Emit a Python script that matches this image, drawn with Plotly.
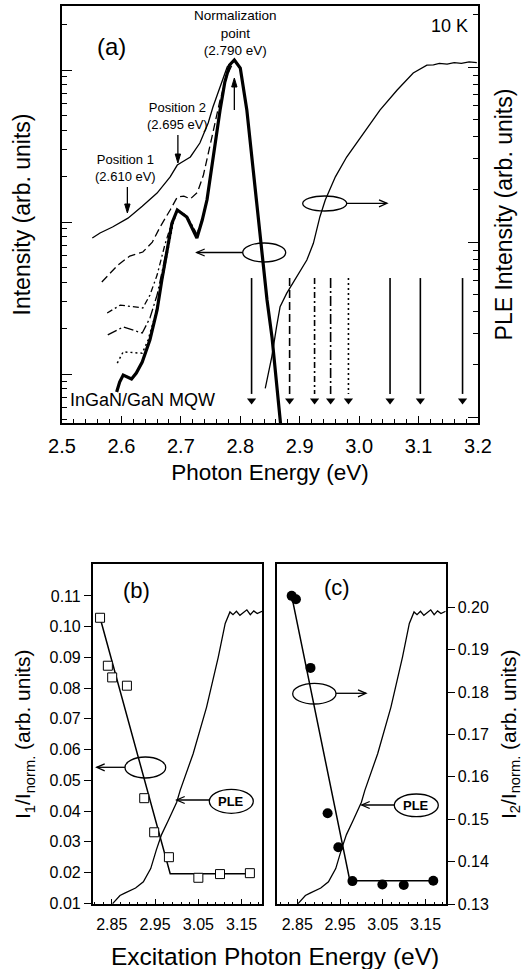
import plotly.graph_objects as go

W, H = 524, 969
FONT = "Liberation Sans, Arial, Helvetica, sans-serif"

# ================= Panel (a): PL spectra (left log axis) =================
# common normalization peak and high-energy side (all spectra coincide)
peak_E = [2.790, 2.800, 2.811, 2.8215, 2.833, 2.845, 2.8535, 2.862, 2.868]
peak_I = [1.164, 1.03, 0.546, 0.230, 0.0885, 0.0307, 0.0173, 0.00847, 0.00461]

# excitation 2.82 eV (thin solid)
pl1_E = [2.551, 2.564, 2.585, 2.611, 2.635, 2.660, 2.682, 2.694, 2.705, 2.716,
         2.732, 2.746, 2.754, 2.766, 2.778]
pl1_I = [0.0785, 0.0847, 0.0927, 0.106, 0.127, 0.155, 0.198, 0.237, 0.252, 0.268,
         0.331, 0.448, 0.571, 0.773, 1.047]
# excitation 2.88 eV (long dash)
pl2_E = [2.567, 2.594, 2.614, 2.636, 2.652, 2.665, 2.682, 2.694, 2.705, 2.716,
         2.728, 2.738, 2.753, 2.766, 2.778]
pl2_I = [0.0403, 0.0521, 0.0597, 0.0635, 0.0738, 0.0927, 0.120, 0.146, 0.148, 0.142,
         0.157, 0.204, 0.373, 0.635, 0.927]
# excitation 2.92 eV (dash-dot)
pl3_E = [2.576, 2.598, 2.636, 2.648, 2.660, 2.673, 2.685, 2.694, 2.710, 2.727,
         2.736, 2.744, 2.750, 2.757, 2.766, 2.774, 2.782]
pl3_I = [0.0252, 0.0284, 0.0272, 0.0331, 0.0448, 0.0706, 0.100, 0.120, 0.110, 0.0834,
         0.104, 0.142, 0.206, 0.323, 0.548, 0.836, 1.079]
# excitation 2.95 eV (long dash-dot)
pl4_E = [2.577, 2.603, 2.635, 2.648, 2.660, 2.673, 2.685, 2.694, 2.710, 2.727,
         2.736, 2.744, 2.750, 2.757, 2.766, 2.774, 2.782]
pl4_I = [0.0181, 0.0204, 0.0186, 0.0234, 0.0331, 0.0562, 0.0955, 0.120, 0.109, 0.0809,
         0.103, 0.141, 0.205, 0.322, 0.547, 0.835, 1.079]
# excitation 2.98 eV (dotted)
pl5_E = [2.593, 2.603, 2.635, 2.645, 2.657, 2.668, 2.678, 2.687, 2.694, 2.710,
         2.727, 2.736, 2.744, 2.750, 2.757, 2.766, 2.774, 2.782]
pl5_I = [0.0118, 0.0140, 0.0137, 0.0168, 0.0245, 0.0403, 0.0655, 0.0984, 0.120, 0.108,
         0.0796, 0.103, 0.140, 0.204, 0.321, 0.546, 0.834, 1.079]
# excitation 3.05 / 3.10 / 3.17 eV (solid, overlapping -> thick)
pl6_E = [2.592, 2.597, 2.603, 2.610, 2.617, 2.625, 2.635, 2.648, 2.660, 2.668,
         2.677, 2.685, 2.694, 2.710, 2.727, 2.736, 2.744, 2.750, 2.757, 2.766,
         2.774, 2.782]
pl6_I = [0.00762, 0.00885, 0.00985, 0.00955, 0.00927, 0.01016, 0.0120, 0.0168, 0.0264, 0.0415,
         0.0655, 0.0984, 0.120, 0.108, 0.0785, 0.103, 0.140, 0.204, 0.321, 0.546,
         0.834, 1.079]

# PLE spectrum (right log axis)
ple_E = [2.842, 2.853, 2.861, 2.867, 2.878, 2.895, 2.912, 2.923, 2.934, 2.943,
         2.960, 2.979, 3.007, 3.035, 3.064, 3.091, 3.114, 3.125, 3.135, 3.148,
         3.160, 3.172, 3.185, 3.198]
ple_I = [0.146, 0.221, 0.328, 0.427, 0.509, 0.634, 0.789, 0.984, 1.396, 1.738,
         2.360, 3.062, 4.198, 5.675, 7.396, 9.247, 10.25, 10.30, 10.50, 10.40,
         10.60, 10.50, 10.70, 10.60]

# excitation energies marked by vertical arrows
exc_E = [2.819, 2.883, 2.925, 2.952, 2.982, 3.052, 3.103, 3.174]
DASH = {"solid": "solid", "ldash": "8px,4px", "dashdot": "6px,3px,2px,3px",
        "ldashdot": "10px,3px,2px,3px", "dot": "2px,3px"}
exc_style = ["solid", "ldash", "dashdot", "ldashdot", "dot", "solid", "solid", "solid"]

# marked positions (eV)
norm_E, pos2_E, pos1_E = 2.790, 2.695, 2.610

a_xticks = [2.5, 2.6, 2.7, 2.8, 2.9, 3.0, 3.1, 3.2]
a_xticklabels = ["2.5", "2.6", "2.7", "2.8", "2.9", "3.0", "3.1", "3.2"]

# ================= Panels (b), (c) =================
b_E = [2.823, 2.841, 2.851, 2.885, 2.925, 2.948, 2.982, 3.050, 3.100, 3.169]
b_I1 = [0.1029, 0.0873, 0.0835, 0.0808, 0.0442, 0.0331, 0.0250, 0.0183, 0.0195, 0.0198]
b_fit_E = [2.823, 2.985, 3.169]
b_fit = [0.1029, 0.0196, 0.0196]

c_E = [2.837, 2.847, 2.881, 2.921, 2.946, 2.979, 3.049, 3.099, 3.168]
c_I2 = [0.2027, 0.2019, 0.1857, 0.1514, 0.1434, 0.1354, 0.1346, 0.1345, 0.1355]
c_fit_E = [2.837, 2.973, 3.170]
c_fit = [0.2027, 0.1355, 0.1355]

# PLE (linear, arbitrary units) shown in (b) and (c)
pbc_E = [2.852, 2.869, 2.880, 2.905, 2.923, 2.940, 2.953, 2.965, 2.980, 3.000,
         3.008, 3.038, 3.069, 3.096, 3.112, 3.123, 3.130, 3.138, 3.146, 3.154,
         3.162, 3.170, 3.178, 3.186, 3.197]
pbc_v = [0.002, 0.026, 0.033, 0.048, 0.066, 0.105, 0.160, 0.205, 0.245, 0.300,
         0.335, 0.443, 0.580, 0.727, 0.826, 0.860, 0.852, 0.862, 0.850, 0.858,
         0.866, 0.852, 0.863, 0.855, 0.862]

bc_xticks = [2.85, 2.95, 3.05, 3.15]
bc_xticklabels = ["2.85", "2.95", "3.05", "3.15"]
b_yticks = [0.01, 0.02, 0.03, 0.04, 0.05, 0.06, 0.07, 0.08, 0.09, 0.10, 0.11]
b_yticklabels = ["0.01", "0.02", "0.03", "0.04", "0.05", "0.06", "0.07", "0.08", "0.09", "0.10", "0.11"]
c_yticks = [0.13, 0.14, 0.15, 0.16, 0.17, 0.18, 0.19, 0.20]
c_yticklabels = ["0.13", "0.14", "0.15", "0.16", "0.17", "0.18", "0.19", "0.20"]


def PX(x):
    return x / W


def PY(y):
    return 1 - y / H


fig = go.Figure()

pl_sets = [(pl1_E, pl1_I, "solid", 1.3), (pl2_E, pl2_I, "ldash", 1.3),
           (pl3_E, pl3_I, "dashdot", 1.3), (pl4_E, pl4_I, "ldashdot", 1.3),
           (pl5_E, pl5_I, "dot", 1.5), (pl6_E, pl6_I, "solid", 3.2)]
for E, I, st, w in pl_sets:
    fig.add_trace(go.Scatter(x=E + peak_E, y=I + peak_I, mode="lines",
                             line=dict(color="black", width=w, dash=DASH[st]),
                             xaxis="x", yaxis="y", showlegend=False, hoverinfo="skip"))

fig.add_trace(go.Scatter(x=ple_E, y=ple_I, mode="lines", line=dict(color="black", width=1.3),
                         xaxis="x", yaxis="y2", showlegend=False))

arr_top, arr_bot, arr_head = 0.0428, 0.0074, 0.0067
for E, st in zip(exc_E, exc_style):
    fig.add_trace(go.Scatter(x=[E, E], y=[arr_top, arr_bot], mode="lines",
                             line=dict(color="black", width=1.6, dash=DASH[st]),
                             xaxis="x", yaxis="y", showlegend=False))
fig.add_trace(go.Scatter(x=exc_E, y=[arr_head] * len(exc_E), mode="markers",
                         marker=dict(symbol="triangle-down", size=8, color="black"),
                         xaxis="x", yaxis="y", showlegend=False))

# (b)
fig.add_trace(go.Scatter(x=pbc_E, y=pbc_v, mode="lines", line=dict(color="black", width=1.3),
                         xaxis="x3", yaxis="y5", showlegend=False))
fig.add_trace(go.Scatter(x=b_fit_E, y=b_fit, mode="lines", line=dict(color="black", width=1.5),
                         xaxis="x3", yaxis="y3", showlegend=False))
fig.add_trace(go.Scatter(x=b_E, y=b_I1, mode="markers",
                         marker=dict(symbol="square", size=9, color="white",
                                     line=dict(width=1, color="black")),
                         xaxis="x3", yaxis="y3", showlegend=False))
# (c)
fig.add_trace(go.Scatter(x=pbc_E, y=pbc_v, mode="lines", line=dict(color="black", width=1.3),
                         xaxis="x4", yaxis="y6", showlegend=False))
fig.add_trace(go.Scatter(x=c_fit_E, y=c_fit, mode="lines", line=dict(color="black", width=1.5),
                         xaxis="x4", yaxis="y4", showlegend=False))
fig.add_trace(go.Scatter(x=c_E, y=c_I2, mode="markers",
                         marker=dict(symbol="circle", size=10, color="black"),
                         xaxis="x4", yaxis="y4", showlegend=False))

LINE = dict(showline=True, linewidth=1.6, linecolor="black", showgrid=False,
            zeroline=False, tickcolor="black", automargin=False)


def logminor(pmin, pmax):
    return [k * 10 ** p for p in range(pmin, pmax) for k in range(2, 10)]


fig.update_layout(
    width=W, height=H, margin=dict(l=0, r=0, t=0, b=0),
    paper_bgcolor="white", plot_bgcolor="white", showlegend=False,
    font=dict(family=FONT, color="black"),
    xaxis=dict(domain=[PX(62), PX(478)], range=[2.5, 3.2], anchor="y",
               tickmode="array", tickvals=a_xticks, ticktext=a_xticklabels,
               ticks="inside", ticklen=7, tickwidth=1.2, mirror=True,
               minor=dict(tick0=2.5, dtick=0.02, ticks="inside", ticklen=4, tickwidth=1,
                          tickcolor="black"),
               tickfont=dict(size=20), ticklabelstandoff=4,
               title=dict(text="Photon Energy (eV)", font=dict(size=22.5), standoff=8), **LINE),
    yaxis=dict(domain=[PY(423), PY(6)], type="log", range=[-2.322, 0.421], anchor="x",
               tickmode="array", tickvals=[0.001, 0.01, 0.1, 1], showticklabels=False,
               ticks="inside", ticklen=10, tickwidth=1.2,
               minor=dict(tickmode="array", tickvals=logminor(-3, 1), ticks="inside",
                          ticklen=5, tickwidth=1, tickcolor="black"),
               title=dict(text="Intensity (arb. units)", font=dict(size=23), standoff=23), **LINE),
    yaxis2=dict(overlaying="y", side="right", type="log", range=[-1.034, 1.349], anchor="x",
                tickmode="array", tickvals=[0.1, 1, 10], showticklabels=False,
                ticks="inside", ticklen=10, tickwidth=1.2,
                minor=dict(tickmode="array", tickvals=logminor(-2, 2), ticks="inside",
                           ticklen=5, tickwidth=1, tickcolor="black"),
                title=dict(text="PLE Intensity (arb. units)", font=dict(size=23), standoff=17), **LINE),
    xaxis3=dict(domain=[PX(92.7), PX(262)], range=[2.806, 3.197], anchor="y3",
                tickmode="array", tickvals=bc_xticks, ticktext=bc_xticklabels,
                ticks="inside", ticklen=6, tickwidth=1.2, mirror=True,
                minor=dict(tick0=2.85, dtick=0.02, ticks="inside", ticklen=3, tickwidth=1,
                           tickcolor="black"),
                tickfont=dict(size=16), ticklabelstandoff=5, **LINE),
    yaxis3=dict(domain=[PY(904.3), PY(564.3)], range=[0.00967, 0.1203], anchor="x3",
                tickmode="array", tickvals=b_yticks, ticktext=b_yticklabels,
                ticks="outside", ticklen=7, tickwidth=1.2, mirror=True,
                tickfont=dict(size=16),
                title=dict(text="I<sub>1</sub>/I<sub>norm.</sub> (arb. units)",
                           font=dict(size=21), standoff=13), **LINE),
    yaxis5=dict(overlaying="y3", range=[0, 1], anchor="x3", visible=False),
    xaxis4=dict(domain=[PX(276.7), PX(445.7)], range=[2.802, 3.197], anchor="y4",
                tickmode="array", tickvals=bc_xticks, ticktext=bc_xticklabels,
                ticks="inside", ticklen=6, tickwidth=1.2, mirror=True,
                minor=dict(tick0=2.85, dtick=0.02, ticks="inside", ticklen=3, tickwidth=1,
                           tickcolor="black"),
                tickfont=dict(size=16), ticklabelstandoff=5, **LINE),
    yaxis4=dict(domain=[PY(904.3), PY(564.3)], range=[0.12993, 0.21014], anchor="x4",
                side="right", tickmode="array", tickvals=c_yticks, ticktext=c_yticklabels,
                ticks="outside", ticklen=7, tickwidth=1.2, mirror=True,
                tickfont=dict(size=16),
                title=dict(text="I<sub>2</sub>/I<sub>norm.</sub> (arb. units)",
                           font=dict(size=21), standoff=13), **LINE),
    yaxis6=dict(overlaying="y4", range=[0, 1], anchor="x4", visible=False),
)

ann = []
shapes = []


def text(t, x, y, size, xanchor="center", bold=False):
    ann.append(dict(text=("<b>%s</b>" % t) if bold else t, x=PX(x), y=PY(y),
                    xref="paper", yref="paper", xanchor=xanchor, yanchor="middle",
                    showarrow=False, font=dict(size=size, family=FONT, color="black")))


def harrow(hx, tx, y, L=8, hw=3.5):
    """horizontal arrow drawn as shapes (paper coords), open V head at hx"""
    s = 1 if hx > tx else -1
    shapes.append(dict(type="line", xref="paper", yref="paper",
                       x0=PX(tx), x1=PX(hx), y0=PY(y), y1=PY(y),
                       line=dict(color="black", width=1.3)))
    path = "M %f,%f L %f,%f L %f,%f" % (PX(hx - s * L), PY(y - hw), PX(hx), PY(y),
                                       PX(hx - s * L), PY(y + hw))
    shapes.append(dict(type="path", xref="paper", yref="paper", path=path,
                       line=dict(color="black", width=1.3)))


def varrow(E, hy, ty, L=9, hwE=0.0045):
    """vertical arrow at energy E (data x), filled head at hy (pixel row)"""
    s = 1 if hy > ty else -1
    shapes.append(dict(type="line", xref="x", yref="paper", x0=E, x1=E,
                       y0=PY(ty), y1=PY(hy - s * 4), line=dict(color="black", width=1.3)))
    path = "M %f,%f L %f,%f L %f,%f Z" % (E - hwE, PY(hy - s * L), E, PY(hy),
                                         E + hwE, PY(hy - s * L))
    shapes.append(dict(type="path", xref="x", yref="paper", path=path,
                       fillcolor="black", line=dict(color="black", width=1)))


text("(a)", 111.7, 46, 24)
text("10 K", 449, 26, 18)
text("Normalization<br>point<br>(2.790 eV)", 235, 33, 13.5)
text("Position 2<br>(2.695 eV)", 177, 116, 13)
text("Position 1<br>(2.610 eV)", 125, 168.5, 13)
text("InGaN/GaN MQW", 68, 400, 18, xanchor="left")
varrow(norm_E, 78, 110)
varrow(pos2_E, 163, 135)
varrow(pos1_E, 213, 187)
harrow(387, 347, 203.3)
harrow(196.7, 242.7, 252.5)

text("(b)", 136.7, 590, 22)
text("(c)", 337.3, 587, 22)
text("PLE", 231.3, 801.3, 13, bold=True)
text("PLE", 416.3, 805.3, 13, bold=True)
harrow(96.7, 125, 767.3)
harrow(176.7, 209.3, 800)
harrow(366, 336, 693.3)
harrow(361.7, 394.3, 805)
text("Excitation Photon Energy (eV)", 275, 956, 24.5)

for (x0, y0, x1, y1) in [(302.7, 196, 346.7, 211), (242.7, 243, 285.7, 262),
                         (125, 757, 165.7, 778), (209.3, 789.3, 253.3, 813.3),
                         (292.7, 683.3, 336, 704), (394.3, 794, 438.3, 816.7)]:
    shapes.append(dict(type="circle", xref="paper", yref="paper",
                       x0=PX(x0), x1=PX(x1), y0=PY(y1), y1=PY(y0),
                       line=dict(color="black", width=1.3)))

fig.update_layout(annotations=ann, shapes=shapes)
fig.write_html("out.html")
